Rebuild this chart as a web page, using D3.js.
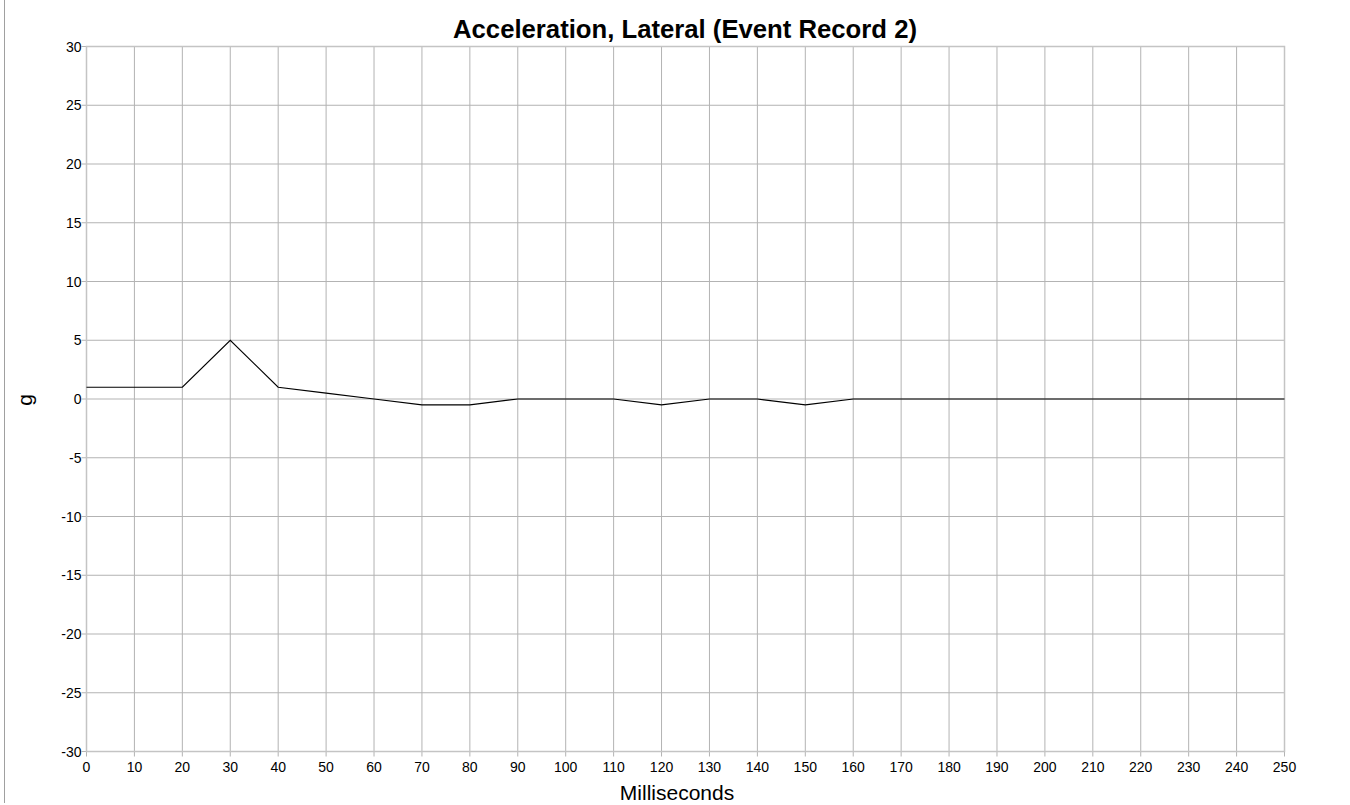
<!DOCTYPE html>
<html><head><meta charset="utf-8">
<script src="https://cdn.jsdelivr.net/npm/d3@7"></script>
<style>body{margin:0;background:#fff;}svg{display:block;font-family:"Liberation Sans",Arial,sans-serif;}</style>
</head><body><svg id="c" width="1350" height="805"></svg>
<script>
const times = [0,10,20,30,40,50,60,70,80,90,100,110,120,130,140,150,160,170,180,190,200,210,220,230,240,250];
const values = [1,1,1,5,1,0.5,0,-0.5,-0.5,0,0,0,-0.5,0,0,-0.5,0,0,0,0,0,0,0,0,0,0];
const xTicks = d3.range(0,251,10);
const yTicks = d3.range(-30,31,5);
const title = "Acceleration, Lateral (Event Record 2)";
const xLabel = "Milliseconds";
const yLabel = "g";

const svg = d3.select("#c");
const L=86.5, R=1284.5, T=46.5, B=751.5;
const x = d3.scaleLinear().domain([0,250]).range([L,R]);
const y = d3.scaleLinear().domain([-30,30]).range([B,T]);

svg.append("line").attr("x1",4.5).attr("x2",4.5).attr("y1",0).attr("y2",803).attr("stroke","#a0a0a0");

const g = svg.append("g");
g.selectAll(".vg").data(xTicks).join("line").attr("x1",d=>x(d)).attr("x2",d=>x(d)).attr("y1",T).attr("y2",B+5).attr("stroke","#b3b3b3");
g.selectAll(".hg").data(yTicks).join("line").attr("x1",L-5).attr("x2",R).attr("y1",d=>y(d)).attr("y2",d=>y(d)).attr("stroke","#b3b3b3");
g.append("rect").attr("x",L).attr("y",T).attr("width",R-L).attr("height",B-T).attr("fill","none").attr("stroke","#c4c4c4").attr("stroke-width",1.5);

g.selectAll(".xt").data(xTicks).join("text").attr("x",d=>x(d)).attr("y",B+20).attr("text-anchor","middle").attr("font-size",14).attr("fill","#000").text(d=>d);
g.selectAll(".yt").data(yTicks).join("text").attr("x",L-5).attr("y",d=>y(d)+5).attr("text-anchor","end").attr("font-size",14).attr("fill","#000").text(d=>d);

const line = d3.line().x((d,i)=>x(times[i])).y(d=>y(d));
svg.append("path").datum(values).attr("d",line).attr("fill","none").attr("stroke","#000").attr("stroke-width",1.2);

svg.append("text").attr("x",685).attr("y",38).attr("text-anchor","middle").attr("font-size",25.7).attr("font-weight","bold").text(title);
svg.append("text").attr("x",677).attr("y",800).attr("text-anchor","middle").attr("font-size",21).text(xLabel);
svg.append("text").attr("transform",`translate(32,400) rotate(-90)`).attr("text-anchor","middle").attr("font-size",21).text(yLabel);
</script></body></html>
